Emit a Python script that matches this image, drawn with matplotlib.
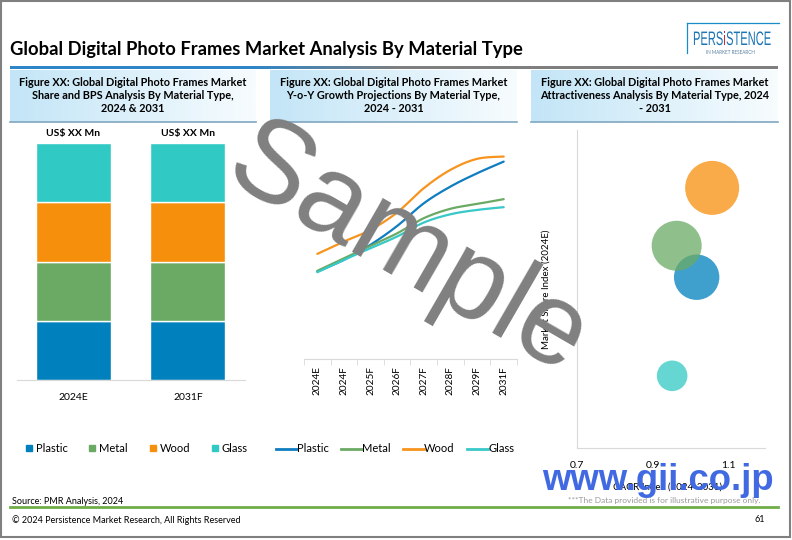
import numpy as np
import matplotlib
matplotlib.use("Agg")
import matplotlib.pyplot as plt
from matplotlib.lines import Line2D
from matplotlib.patches import Rectangle, PathPatch
from matplotlib.textpath import TextPath
from matplotlib.font_manager import FontProperties
from matplotlib.transforms import Affine2D
import matplotlib.colors as mcolors

plt.rcParams['font.family'] = ['Lato', 'DejaVu Sans']

# ---------------- data ----------------
materials = ["Plastic", "Metal", "Wood", "Glass"]
mat_colors = ["#0080BD", "#6AAA64", "#F68F0B", "#31C9C4"]

bar_years = ["2024E", "2031F"]
share_plastic = [25, 25]
share_metal = [25, 25]
share_wood = [25, 25]
share_glass = [25, 25]
bar_value_label = "US$ XX Mn"

yoy_years = ["2024E", "2024F", "2025F", "2026F", "2027F", "2028F", "2029F", "2031F"]
yoy_plastic = [38.2, 43.3, 49.9, 58.1, 68.0, 75.3, 81.1, 86.2]
yoy_metal = [38.5, 44.0, 49.4, 54.9, 61.5, 65.6, 67.7, 69.8]
yoy_wood = [45.9, 51.3, 56.4, 64.0, 74.6, 82.6, 87.4, 88.4]
yoy_glass = [37.9, 43.3, 48.4, 53.5, 59.6, 63.2, 65.1, 66.3]
line_colors = ["#0F7DC0", "#6AAA64", "#F7941E", "#38C8C8"]

cagr_index = [1.017, 0.964, 1.058, 0.952]      # Plastic, Metal, Wood, Glass
share_index = [0.537, 0.636, 0.818, 0.227]
bubble_size = [515, 625, 729, 234]
bubble_xticks = [0.7, 0.9, 1.1]

title = "Global Digital Photo Frames Market Analysis By Material Type"
headers = [
    "Figure XX: Global Digital Photo Frames Market\nShare and BPS Analysis By Material Type,\n2024 & 2031",
    "Figure XX: Global Digital Photo Frames Market\nY-o-Y Growth Projections By Material Type,\n2024 - 2031",
    "Figure XX: Global Digital Photo Frames Market\nAttractiveness Analysis By Material Type, 2024\n- 2031",
]

# ---------------- figure ----------------
W, H = 792, 540
fig = plt.figure(figsize=(W / 100, H / 100), dpi=100)


def fr(x0, y0, x1, y1):
    return [x0 / W, 1 - y1 / H, (x1 - x0) / W, (y1 - y0) / H]


# background / decoration axes in pixel coords
bg = fig.add_axes([0, 0, 1, 1], zorder=0)
bg.set_xlim(0, W)
bg.set_ylim(H, 0)
bg.axis("off")

# page border
bg.add_patch(Rectangle((1, 1), 789, 536, fill=False, edgecolor="#808080", lw=1.5))

# title
bg.text(10, 50, title, fontsize=13.2, fontweight="bold", color="#000000", ha="left", va="center")

# title underline: blue fading to gray
blue = np.array(mcolors.to_rgb("#2E86C8"))
gray = np.array(mcolors.to_rgb("#7F7F7F"))
xs = np.linspace(10, 778, 400)
t = np.clip((xs - 250) / 150, 0, 1)[:, None]
strip = (blue * (1 - t) + gray * t)[None, :, :]
bg.imshow(strip, extent=[10, 778, 69, 66], aspect="auto", interpolation="bilinear")

# header boxes with gradient
hb_x = [(10, 256), (270, 517), (531, 778)]
lb = np.array(mcolors.to_rgb("#C3E5F7"))
wh = np.array(mcolors.to_rgb("#F7FCFE"))
for (x0, x1), txt in zip(hb_x, headers):
    tt = np.linspace(0, 1, 200)[:, None]
    g = (lb * (1 - tt) + wh * tt)[None, :, :]
    bg.imshow(g, extent=[x0, x1, 122, 70], aspect="auto", interpolation="bilinear")
    bg.plot([x0, x1], [122, 122], color="#7FA7C0", lw=1.2)
    bg.text((x0 + x1) / 2, 95.5, txt, fontsize=7.8, fontweight="bold", ha="center",
            va="center", multialignment="center", linespacing=1.22)

# logo
bg.plot([687, 779], [23, 23], color="#1A8CC8", lw=0.9)
bg.plot([687, 687], [23, 53], color="#1A8CC8", lw=0.9)
fp = FontProperties(family="Liberation Sans")
xcur = 693
for part, col in [("PERS", "#1C75B5"), ("i", "#D7262E"), ("STENCE", "#1C75B5")]:
    tp = TextPath((0, 0), part, size=19.5, prop=fp)
    ext = tp.get_extents()
    tr = Affine2D().scale(0.57, -1.0).translate(xcur, 45)
    bg.add_patch(PathPatch(tr.transform_path(tp), color=col, lw=0))
    xcur += ext.x1 * 0.57 + 0.8
bg.text(730, 53, "IN MARKET RESEARCH", fontsize=3.3, color="#5A7FA0", ha="center", va="center")

# footer
bg.text(12, 501, "Source: PMR Analysis, 2024", fontsize=6.5, ha="left", va="center")
bg.text(761, 501, "***The Data provided is for illustrative purpose only.", fontsize=6.05,
        color="#9A9A9A", ha="right", va="center")
bg.plot([10, 778], [507, 507], color="#70AD47", lw=2)
bg.text(12, 520, "\u00a9 2024 Persistence Market Research, All Rights Reserved", fontsize=6.5,
        ha="left", va="center")
bg.text(765, 520, "61", fontsize=6.5, ha="right", va="center")

# ---------------- panel 1: stacked bars ----------------
ax1 = fig.add_axes(fr(17, 143, 245, 380), zorder=2)
ax1.patch.set_visible(False)
xpos = np.arange(len(bar_years))
bottom = np.zeros(len(bar_years))
for name, vals, col in zip(materials, [share_plastic, share_metal, share_wood, share_glass], mat_colors):
    ax1.bar(xpos, vals, bottom=bottom, width=0.655, color=col, edgecolor="white", linewidth=1.0, label=name)
    bottom += np.array(vals)
ax1.set_xlim(-0.493, 1.498)
ax1.set_ylim(0, 100)
for s in ["top", "right", "left"]:
    ax1.spines[s].set_visible(False)
ax1.spines["bottom"].set_color("#D9D9D9")
ax1.set_yticks([])
ax1.set_xticks(xpos)
ax1.set_xticklabels(bar_years, fontsize=7.5)
ax1.tick_params(axis="x", length=0, pad=9)
for i, tot in enumerate(bottom):
    ax1.text(i, tot + 4.2, bar_value_label, fontsize=7.5, fontweight="bold", ha="center", va="center")
h1 = [Line2D([], [], marker="s", linestyle="", markersize=5, color=c) for c in mat_colors]
fig.legend(h1, materials, loc="center", bbox_to_anchor=(136 / W, 1 - 448 / H), ncol=4, frameon=False,
           fontsize=8, handletextpad=0.2, columnspacing=1.85, handlelength=0.8)

# ---------------- panel 2: smoothed lines ----------------


def smooth(xv, yv, n=24):
    P = np.column_stack([xv, yv]).astype(float)
    out = []
    for i in range(len(P) - 1):
        p0 = P[i - 1] if i > 0 else P[i]
        p1, p2 = P[i], P[i + 1]
        p3 = P[i + 2] if i + 2 < len(P) else P[i + 1]
        c1 = p1 + (p2 - p0) / 6
        c2 = p2 - (p3 - p1) / 6
        tt = np.linspace(0, 1, n)[:, None]
        seg = (1 - tt) ** 3 * p1 + 3 * (1 - tt) ** 2 * tt * c1 + 3 * (1 - tt) * tt ** 2 * c2 + tt ** 3 * p2
        out.append(seg if i == 0 else seg[1:])
    return np.vstack(out)


ax2 = fig.add_axes(fr(304, 130, 517, 359), zorder=2)
ax2.patch.set_visible(False)
xc = np.arange(len(yoy_years))
for name, vals, col in zip(materials, [yoy_plastic, yoy_metal, yoy_wood, yoy_glass], line_colors):
    sm = smooth(xc, vals)
    ax2.plot(sm[:, 0], sm[:, 1], color=col, lw=1.6, label=name, solid_capstyle="round")
ax2.set_xlim(-0.5, len(yoy_years) - 0.5)
ax2.set_ylim(0, 100)
for s in ["top", "right", "left"]:
    ax2.spines[s].set_visible(False)
ax2.spines["bottom"].set_color("#D9D9D9")
ax2.set_yticks([])
ax2.set_xticks(xc)
ax2.set_xticklabels(yoy_years, rotation=90, fontsize=7.2)
ax2.set_xticks(np.arange(-0.5, len(yoy_years), 1), minor=True)
ax2.tick_params(axis="x", which="major", length=0, pad=5)
ax2.tick_params(axis="x", which="minor", length=4, color="#D9D9D9")
h2 = [Line2D([], [], color=c, lw=2) for c in line_colors]
fig.legend(h2, materials, loc="center", bbox_to_anchor=(395 / W, 1 - 449 / H), ncol=4, frameon=False,
           fontsize=8, handletextpad=0.0, columnspacing=1.1, handlelength=1.9)

# ---------------- panel 3: bubbles ----------------
ax3 = fig.add_axes(fr(577, 130, 765, 448), zorder=2)
ax3.patch.set_visible(False)
sizes = [4 * 0.5184 * b for b in bubble_size]
for i in [0, 1, 2, 3]:
    ax3.scatter(cagr_index[i], share_index[i], s=sizes[i], color=mat_colors[i], alpha=0.75,
                edgecolors="none", zorder=3)
ax3.set_xlim(0.7, 1.198)
ax3.set_ylim(0, 1)
for s in ["top", "right"]:
    ax3.spines[s].set_visible(False)
ax3.spines["left"].set_color("#D9D9D9")
ax3.spines["bottom"].set_color("#D9D9D9")
ax3.set_yticks([])
ax3.set_xticks(bubble_xticks)
ax3.set_xticklabels([f"{v:.1f}" for v in bubble_xticks], fontsize=7.5)
ax3.tick_params(axis="x", length=0, pad=9)
ax3.set_ylabel("Market Share Index (2024E)", fontsize=7)
ax3.yaxis.set_label_coords(-0.138, 0.5)
ax3.set_xlabel("CAGR Index (2024-2031)", fontsize=7)
ax3.xaxis.set_label_coords(0.48, -0.11)

# ---------------- watermarks ----------------
top = fig.add_axes([0, 0, 1, 1], zorder=10)
top.set_xlim(0, W)
top.set_ylim(H, 0)
top.axis("off")
top.patch.set_visible(False)
top.text(407, 252, "Sample", fontsize=84, color="#808080", rotation=-30, ha="center", va="center",
         family="Liberation Sans")
top.text(542, 490, "www.gii.co.jp", fontsize=26.3, color="#4169E1", fontweight="bold", ha="left",
         va="baseline", family="Liberation Sans")

fig.savefig("out.png", dpi=100)
